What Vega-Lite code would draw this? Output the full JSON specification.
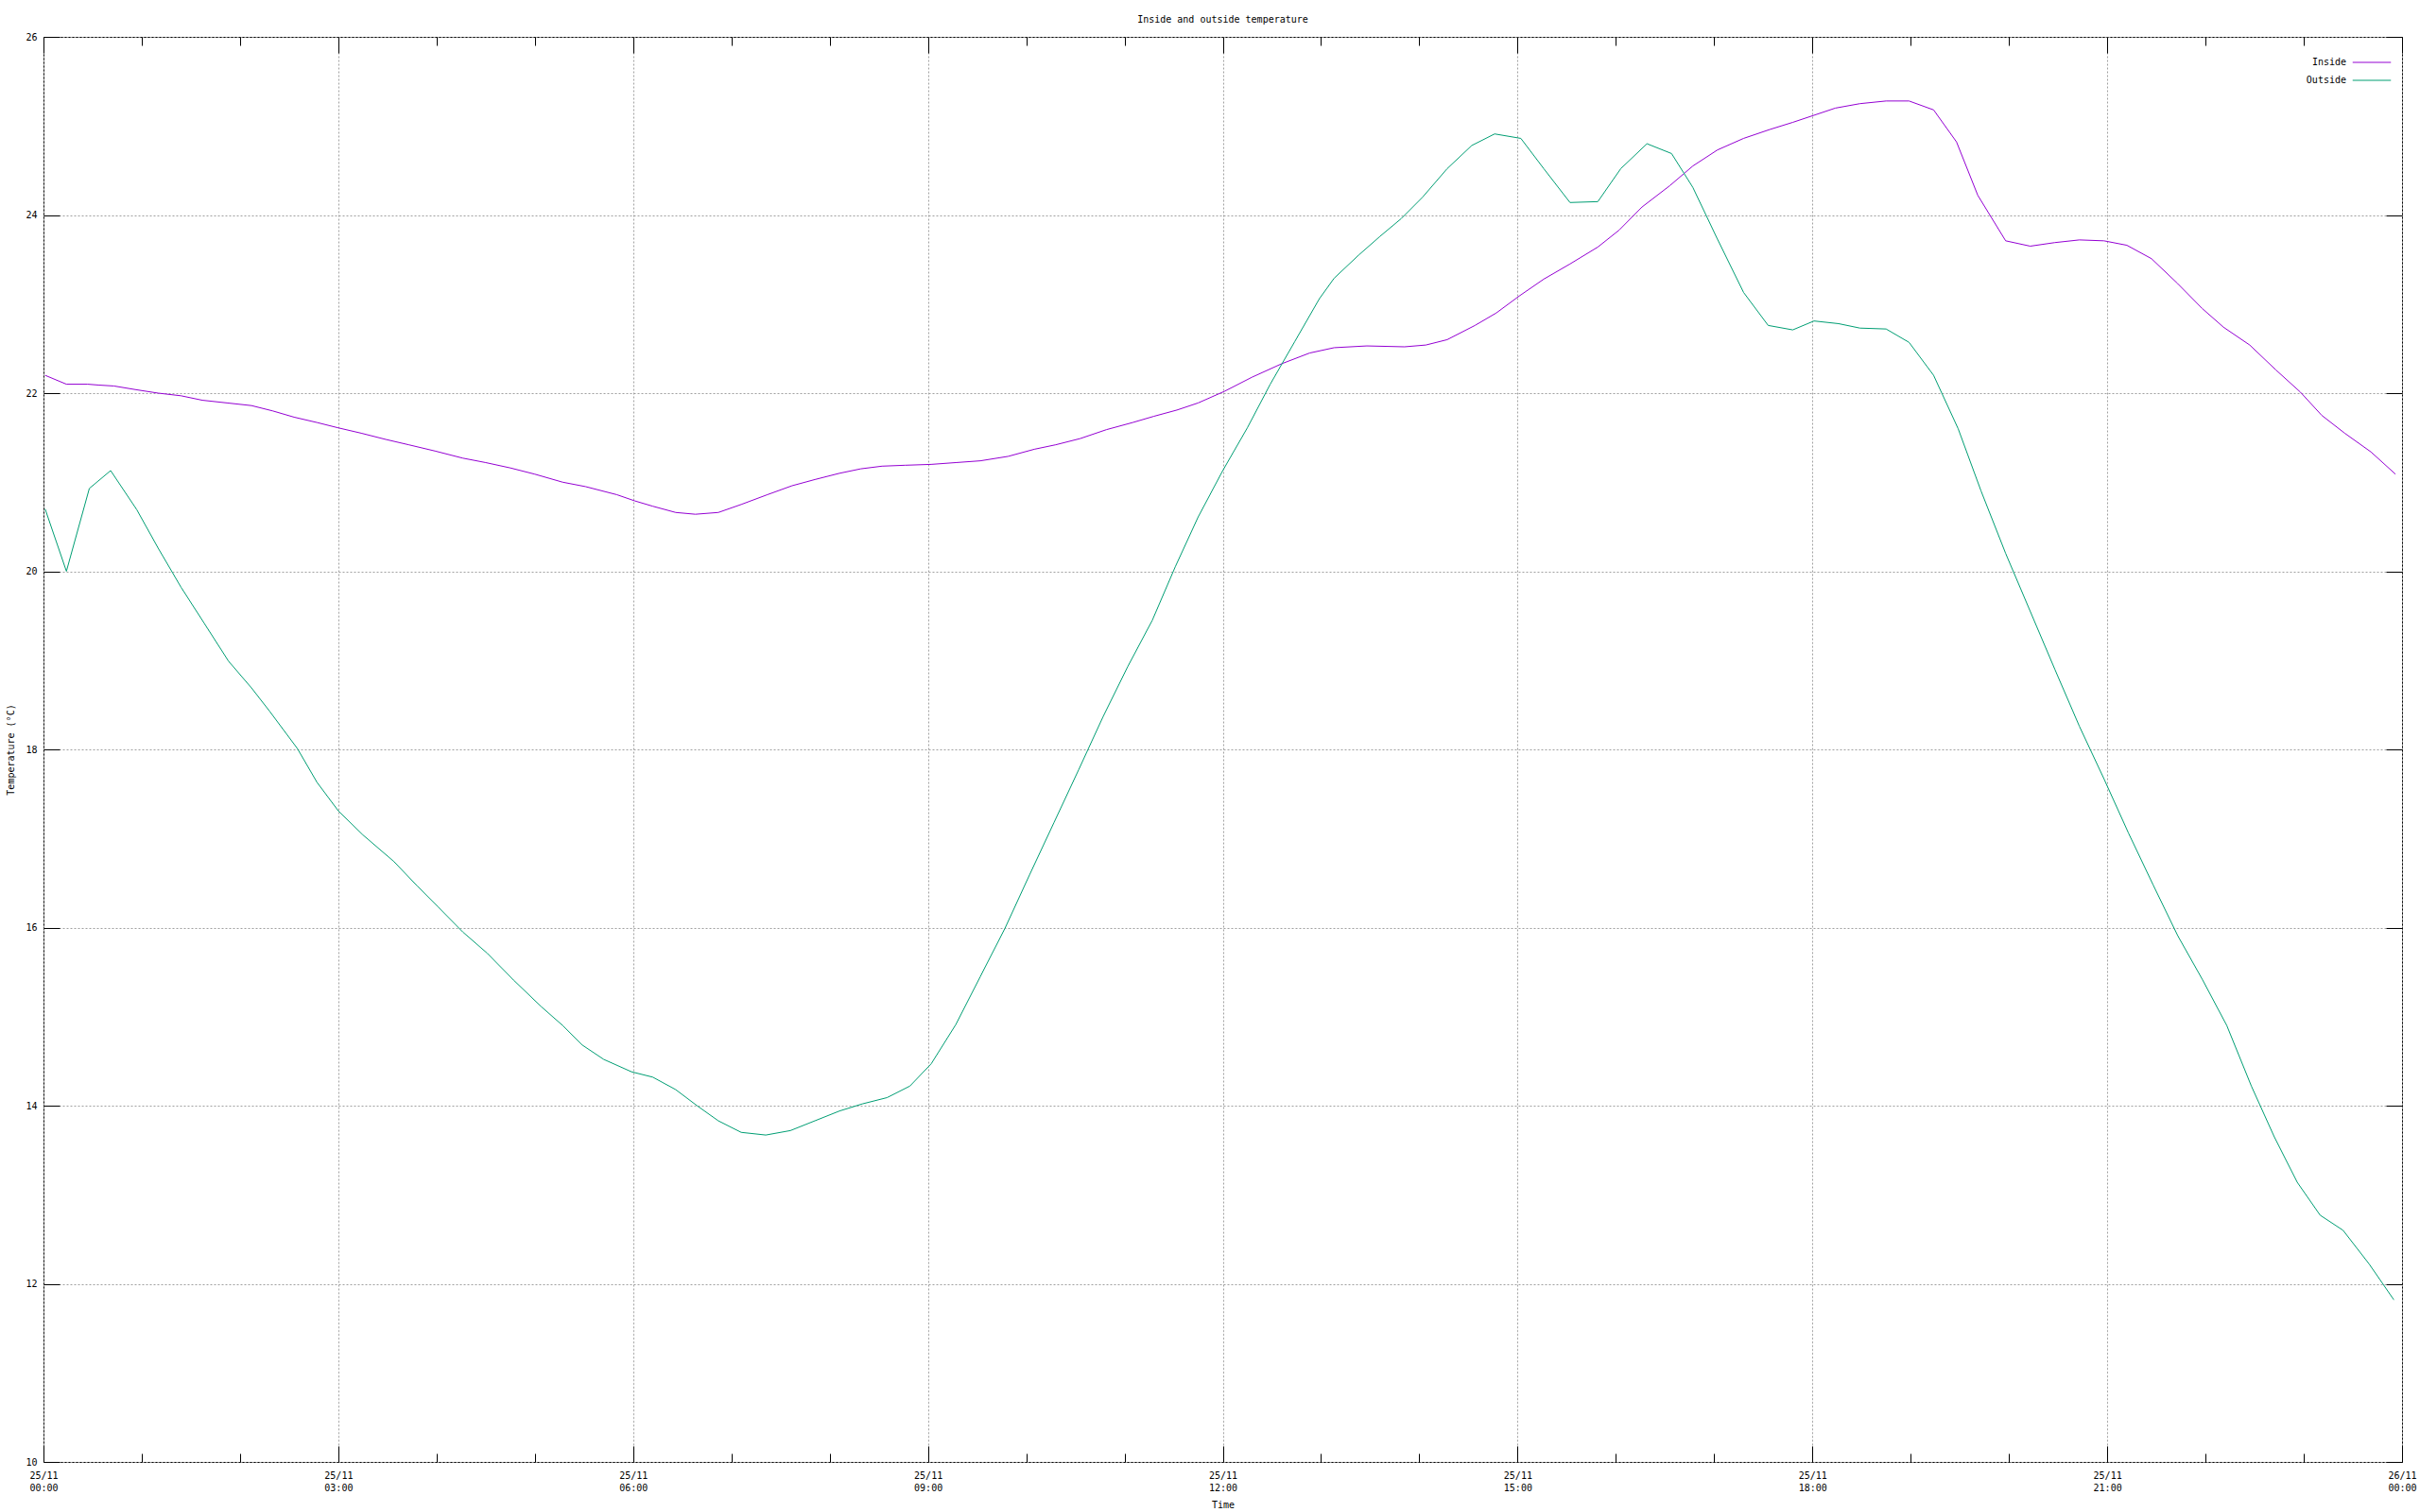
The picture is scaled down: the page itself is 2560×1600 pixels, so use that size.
{
  "$schema": "https://vega.github.io/schema/vega-lite/v6.json",
  "width": 2495,
  "height": 1508,
  "autosize": {"type": "none"},
  "padding": {"left": 46, "top": 39, "right": 19, "bottom": 53},
  "background": "white",
  "title": {"text": "Inside and outside temperature", "font": "DejaVu Sans Mono", "fontSize": 10, "fontWeight": "normal", "color": "black", "anchor": "middle", "offset": 8},
  "config": {
    "view": {"stroke": "black", "strokeWidth": 1},
    "axis": {"domain": false, "labelFont": "DejaVu Sans Mono", "labelFontSize": 10, "labelColor": "black", "titleFont": "DejaVu Sans Mono", "titleFontSize": 10, "titleFontWeight": "normal", "titleColor": "black", "tickColor": "black", "tickWidth": 1, "gridColor": "#a0a0a0", "gridDash": [2, 2], "gridWidth": 1, "labelOverlap": false, "labelFlush": false, "labelBound": false}
  },
  "data": {"values": [
    {"t":"2023-11-25T00:01","s":"Inside","v":22.20},{"t":"2023-11-25T00:14","s":"Inside","v":22.10},{"t":"2023-11-25T00:27","s":"Inside","v":22.10},{"t":"2023-11-25T00:34","s":"Inside","v":22.09},{"t":"2023-11-25T00:43","s":"Inside","v":22.08},{"t":"2023-11-25T00:56","s":"Inside","v":22.04},{"t":"2023-11-25T01:10","s":"Inside","v":22.00},{"t":"2023-11-25T01:24","s":"Inside","v":21.97},{"t":"2023-11-25T01:37","s":"Inside","v":21.92},{"t":"2023-11-25T01:52","s":"Inside","v":21.89},{"t":"2023-11-25T02:07","s":"Inside","v":21.86},{"t":"2023-11-25T02:20","s":"Inside","v":21.80},{"t":"2023-11-25T02:33","s":"Inside","v":21.73},{"t":"2023-11-25T02:47","s":"Inside","v":21.67},{"t":"2023-11-25T03:00","s":"Inside","v":21.61},{"t":"2023-11-25T03:14","s":"Inside","v":21.55},{"t":"2023-11-25T03:29","s":"Inside","v":21.48},{"t":"2023-11-25T03:43","s":"Inside","v":21.42},{"t":"2023-11-25T03:59","s":"Inside","v":21.35},{"t":"2023-11-25T04:16","s":"Inside","v":21.27},{"t":"2023-11-25T04:30","s":"Inside","v":21.22},{"t":"2023-11-25T04:45","s":"Inside","v":21.16},{"t":"2023-11-25T05:00","s":"Inside","v":21.09},{"t":"2023-11-25T05:17","s":"Inside","v":21.00},{"t":"2023-11-25T05:31","s":"Inside","v":20.95},{"t":"2023-11-25T05:50","s":"Inside","v":20.86},{"t":"2023-11-25T06:01","s":"Inside","v":20.79},{"t":"2023-11-25T06:12","s":"Inside","v":20.73},{"t":"2023-11-25T06:26","s":"Inside","v":20.66},{"t":"2023-11-25T06:38","s":"Inside","v":20.64},{"t":"2023-11-25T06:52","s":"Inside","v":20.66},{"t":"2023-11-25T07:06","s":"Inside","v":20.75},{"t":"2023-11-25T07:22","s":"Inside","v":20.86},{"t":"2023-11-25T07:37","s":"Inside","v":20.96},{"t":"2023-11-25T07:51","s":"Inside","v":21.03},{"t":"2023-11-25T08:06","s":"Inside","v":21.10},{"t":"2023-11-25T08:19","s":"Inside","v":21.15},{"t":"2023-11-25T08:32","s":"Inside","v":21.18},{"t":"2023-11-25T08:46","s":"Inside","v":21.19},{"t":"2023-11-25T09:02","s":"Inside","v":21.20},{"t":"2023-11-25T09:17","s":"Inside","v":21.22},{"t":"2023-11-25T09:32","s":"Inside","v":21.24},{"t":"2023-11-25T09:49","s":"Inside","v":21.29},{"t":"2023-11-25T10:05","s":"Inside","v":21.37},{"t":"2023-11-25T10:18","s":"Inside","v":21.42},{"t":"2023-11-25T10:33","s":"Inside","v":21.49},{"t":"2023-11-25T10:49","s":"Inside","v":21.59},{"t":"2023-11-25T11:05","s":"Inside","v":21.67},{"t":"2023-11-25T11:18","s":"Inside","v":21.74},{"t":"2023-11-25T11:32","s":"Inside","v":21.81},{"t":"2023-11-25T11:45","s":"Inside","v":21.89},{"t":"2023-11-25T12:01","s":"Inside","v":22.02},{"t":"2023-11-25T12:18","s":"Inside","v":22.18},{"t":"2023-11-25T12:36","s":"Inside","v":22.33},{"t":"2023-11-25T12:53","s":"Inside","v":22.45},{"t":"2023-11-25T13:08","s":"Inside","v":22.51},{"t":"2023-11-25T13:28","s":"Inside","v":22.53},{"t":"2023-11-25T13:51","s":"Inside","v":22.52},{"t":"2023-11-25T14:04","s":"Inside","v":22.54},{"t":"2023-11-25T14:17","s":"Inside","v":22.60},{"t":"2023-11-25T14:34","s":"Inside","v":22.76},{"t":"2023-11-25T14:47","s":"Inside","v":22.90},{"t":"2023-11-25T15:01","s":"Inside","v":23.09},{"t":"2023-11-25T15:16","s":"Inside","v":23.28},{"t":"2023-11-25T15:32","s":"Inside","v":23.45},{"t":"2023-11-25T15:49","s":"Inside","v":23.64},{"t":"2023-11-25T16:02","s":"Inside","v":23.83},{"t":"2023-11-25T16:16","s":"Inside","v":24.09},{"t":"2023-11-25T16:33","s":"Inside","v":24.33},{"t":"2023-11-25T16:47","s":"Inside","v":24.55},{"t":"2023-11-25T17:02","s":"Inside","v":24.73},{"t":"2023-11-25T17:18","s":"Inside","v":24.86},{"t":"2023-11-25T17:34","s":"Inside","v":24.96},{"t":"2023-11-25T17:48","s":"Inside","v":25.04},{"t":"2023-11-25T18:01","s":"Inside","v":25.12},{"t":"2023-11-25T18:14","s":"Inside","v":25.20},{"t":"2023-11-25T18:29","s":"Inside","v":25.25},{"t":"2023-11-25T18:45","s":"Inside","v":25.28},{"t":"2023-11-25T18:59","s":"Inside","v":25.28},{"t":"2023-11-25T19:14","s":"Inside","v":25.18},{"t":"2023-11-25T19:28","s":"Inside","v":24.82},{"t":"2023-11-25T19:41","s":"Inside","v":24.22},{"t":"2023-11-25T19:58","s":"Inside","v":23.71},{"t":"2023-11-25T20:13","s":"Inside","v":23.65},{"t":"2023-11-25T20:28","s":"Inside","v":23.69},{"t":"2023-11-25T20:43","s":"Inside","v":23.72},{"t":"2023-11-25T20:58","s":"Inside","v":23.71},{"t":"2023-11-25T21:12","s":"Inside","v":23.66},{"t":"2023-11-25T21:27","s":"Inside","v":23.51},{"t":"2023-11-25T21:43","s":"Inside","v":23.23},{"t":"2023-11-25T21:58","s":"Inside","v":22.95},{"t":"2023-11-25T22:11","s":"Inside","v":22.74},{"t":"2023-11-25T22:27","s":"Inside","v":22.54},{"t":"2023-11-25T22:43","s":"Inside","v":22.26},{"t":"2023-11-25T22:58","s":"Inside","v":22.01},{"t":"2023-11-25T23:11","s":"Inside","v":21.75},{"t":"2023-11-25T23:25","s":"Inside","v":21.55},{"t":"2023-11-25T23:41","s":"Inside","v":21.34},{"t":"2023-11-25T23:56","s":"Inside","v":21.09},
    {"t":"2023-11-25T00:01","s":"Outside","v":20.70},{"t":"2023-11-25T00:14","s":"Outside","v":20.00},{"t":"2023-11-25T00:28","s":"Outside","v":20.93},{"t":"2023-11-25T00:41","s":"Outside","v":21.13},{"t":"2023-11-25T00:57","s":"Outside","v":20.69},{"t":"2023-11-25T01:10","s":"Outside","v":20.26},{"t":"2023-11-25T01:24","s":"Outside","v":19.82},{"t":"2023-11-25T01:38","s":"Outside","v":19.42},{"t":"2023-11-25T01:53","s":"Outside","v":18.99},{"t":"2023-11-25T02:07","s":"Outside","v":18.69},{"t":"2023-11-25T02:18","s":"Outside","v":18.43},{"t":"2023-11-25T02:35","s":"Outside","v":18.01},{"t":"2023-11-25T02:47","s":"Outside","v":17.63},{"t":"2023-11-25T03:00","s":"Outside","v":17.31},{"t":"2023-11-25T03:15","s":"Outside","v":17.04},{"t":"2023-11-25T03:34","s":"Outside","v":16.74},{"t":"2023-11-25T03:48","s":"Outside","v":16.47},{"t":"2023-11-25T04:01","s":"Outside","v":16.23},{"t":"2023-11-25T04:16","s":"Outside","v":15.95},{"t":"2023-11-25T04:31","s":"Outside","v":15.71},{"t":"2023-11-25T04:47","s":"Outside","v":15.41},{"t":"2023-11-25T05:04","s":"Outside","v":15.11},{"t":"2023-11-25T05:17","s":"Outside","v":14.90},{"t":"2023-11-25T05:29","s":"Outside","v":14.68},{"t":"2023-11-25T05:42","s":"Outside","v":14.52},{"t":"2023-11-25T05:59","s":"Outside","v":14.38},{"t":"2023-11-25T06:12","s":"Outside","v":14.32},{"t":"2023-11-25T06:26","s":"Outside","v":14.18},{"t":"2023-11-25T06:39","s":"Outside","v":14.00},{"t":"2023-11-25T06:52","s":"Outside","v":13.83},{"t":"2023-11-25T07:06","s":"Outside","v":13.70},{"t":"2023-11-25T07:21","s":"Outside","v":13.67},{"t":"2023-11-25T07:36","s":"Outside","v":13.72},{"t":"2023-11-25T07:51","s":"Outside","v":13.83},{"t":"2023-11-25T08:06","s":"Outside","v":13.94},{"t":"2023-11-25T08:20","s":"Outside","v":14.02},{"t":"2023-11-25T08:35","s":"Outside","v":14.09},{"t":"2023-11-25T08:49","s":"Outside","v":14.22},{"t":"2023-11-25T09:02","s":"Outside","v":14.47},{"t":"2023-11-25T09:17","s":"Outside","v":14.91},{"t":"2023-11-25T09:32","s":"Outside","v":15.45},{"t":"2023-11-25T09:47","s":"Outside","v":15.99},{"t":"2023-11-25T10:02","s":"Outside","v":16.59},{"t":"2023-11-25T10:17","s":"Outside","v":17.18},{"t":"2023-11-25T10:32","s":"Outside","v":17.77},{"t":"2023-11-25T10:47","s":"Outside","v":18.37},{"t":"2023-11-25T11:02","s":"Outside","v":18.93},{"t":"2023-11-25T11:17","s":"Outside","v":19.45},{"t":"2023-11-25T11:31","s":"Outside","v":20.05},{"t":"2023-11-25T11:45","s":"Outside","v":20.61},{"t":"2023-11-25T12:00","s":"Outside","v":21.13},{"t":"2023-11-25T12:15","s":"Outside","v":21.61},{"t":"2023-11-25T12:29","s":"Outside","v":22.10},{"t":"2023-11-25T12:44","s":"Outside","v":22.58},{"t":"2023-11-25T12:59","s":"Outside","v":23.06},{"t":"2023-11-25T13:08","s":"Outside","v":23.29},{"t":"2023-11-25T13:23","s":"Outside","v":23.55},{"t":"2023-11-25T13:36","s":"Outside","v":23.76},{"t":"2023-11-25T13:49","s":"Outside","v":23.96},{"t":"2023-11-25T14:02","s":"Outside","v":24.20},{"t":"2023-11-25T14:17","s":"Outside","v":24.52},{"t":"2023-11-25T14:32","s":"Outside","v":24.78},{"t":"2023-11-25T14:46","s":"Outside","v":24.91},{"t":"2023-11-25T15:02","s":"Outside","v":24.86},{"t":"2023-11-25T15:16","s":"Outside","v":24.52},{"t":"2023-11-25T15:32","s":"Outside","v":24.14},{"t":"2023-11-25T15:49","s":"Outside","v":24.15},{"t":"2023-11-25T16:03","s":"Outside","v":24.52},{"t":"2023-11-25T16:19","s":"Outside","v":24.80},{"t":"2023-11-25T16:34","s":"Outside","v":24.69},{"t":"2023-11-25T16:47","s":"Outside","v":24.31},{"t":"2023-11-25T17:02","s":"Outside","v":23.73},{"t":"2023-11-25T17:18","s":"Outside","v":23.13},{"t":"2023-11-25T17:33","s":"Outside","v":22.76},{"t":"2023-11-25T17:48","s":"Outside","v":22.71},{"t":"2023-11-25T18:01","s":"Outside","v":22.81},{"t":"2023-11-25T18:16","s":"Outside","v":22.78},{"t":"2023-11-25T18:29","s":"Outside","v":22.73},{"t":"2023-11-25T18:45","s":"Outside","v":22.72},{"t":"2023-11-25T18:59","s":"Outside","v":22.57},{"t":"2023-11-25T19:14","s":"Outside","v":22.20},{"t":"2023-11-25T19:29","s":"Outside","v":21.60},{"t":"2023-11-25T19:43","s":"Outside","v":20.90},{"t":"2023-11-25T19:58","s":"Outside","v":20.20},{"t":"2023-11-25T20:13","s":"Outside","v":19.55},{"t":"2023-11-25T20:28","s":"Outside","v":18.90},{"t":"2023-11-25T20:43","s":"Outside","v":18.26},{"t":"2023-11-25T20:58","s":"Outside","v":17.67},{"t":"2023-11-25T21:13","s":"Outside","v":17.06},{"t":"2023-11-25T21:28","s":"Outside","v":16.48},{"t":"2023-11-25T21:43","s":"Outside","v":15.91},{"t":"2023-11-25T21:58","s":"Outside","v":15.42},{"t":"2023-11-25T22:13","s":"Outside","v":14.90},{"t":"2023-11-25T22:28","s":"Outside","v":14.22},{"t":"2023-11-25T22:42","s":"Outside","v":13.65},{"t":"2023-11-25T22:56","s":"Outside","v":13.14},{"t":"2023-11-25T23:10","s":"Outside","v":12.77},{"t":"2023-11-25T23:24","s":"Outside","v":12.60},{"t":"2023-11-25T23:40","s":"Outside","v":12.22},{"t":"2023-11-25T23:55","s":"Outside","v":11.82}
  ]},
  "layer": [
    {
      "mark": {"type": "line", "strokeWidth": 1, "clip": true},
      "encoding": {
        "x": {"field": "t", "type": "temporal", "title": "Time",
          "scale": {"domain": [{"year": 2023, "month": 11, "date": 25, "hours": 0}, {"year": 2023, "month": 11, "date": 26, "hours": 0}], "nice": false},
          "axis": {"orient": "bottom",
            "values": [{"year": 2023, "month": 11, "date": 25, "hours": 0}, {"year": 2023, "month": 11, "date": 25, "hours": 3}, {"year": 2023, "month": 11, "date": 25, "hours": 6}, {"year": 2023, "month": 11, "date": 25, "hours": 9}, {"year": 2023, "month": 11, "date": 25, "hours": 12}, {"year": 2023, "month": 11, "date": 25, "hours": 15}, {"year": 2023, "month": 11, "date": 25, "hours": 18}, {"year": 2023, "month": 11, "date": 25, "hours": 21}, {"year": 2023, "month": 11, "date": 26, "hours": 0}],
            "labelExpr": "[timeFormat(datum.value, '%d/%m'), timeFormat(datum.value, '%H:%M')]",
            "labelLineHeight": 13, "labelPadding": 26, "labelAlign": "center", "labelBaseline": "top",
            "tickSize": -17, "titlePadding": 8}},
        "y": {"field": "v", "type": "quantitative", "title": "Temperature (°C)",
          "scale": {"domain": [10, 26], "nice": false, "zero": false},
          "axis": {"orient": "left", "values": [10, 12, 14, 16, 18, 20, 22, 24, 26], "tickSize": -17, "labelPadding": 24, "titlePadding": 10}},
        "color": {"field": "s", "type": "nominal",
          "scale": {"domain": ["Inside", "Outside"], "range": ["#9400d3", "#009e73"]},
          "legend": {"orient": "none", "legendX": 2449, "legendY": 13, "title": null, "symbolType": "M-1.5,0H1.5", "symbolSize": 729, "symbolStrokeWidth": 1, "labelAlign": "right", "labelOffset": -41, "labelFont": "DejaVu Sans Mono", "labelFontSize": 10, "labelColor": "black", "padding": 0, "rowPadding": 0}}
      }
    },
    {
      "mark": {"type": "line", "opacity": 0},
      "encoding": {
        "x": {"field": "t", "type": "temporal",
          "axis": {"orient": "top", "title": null, "labels": false, "grid": false, "tickSize": -17,
            "values": [{"year": 2023, "month": 11, "date": 25, "hours": 0}, {"year": 2023, "month": 11, "date": 25, "hours": 3}, {"year": 2023, "month": 11, "date": 25, "hours": 6}, {"year": 2023, "month": 11, "date": 25, "hours": 9}, {"year": 2023, "month": 11, "date": 25, "hours": 12}, {"year": 2023, "month": 11, "date": 25, "hours": 15}, {"year": 2023, "month": 11, "date": 25, "hours": 18}, {"year": 2023, "month": 11, "date": 25, "hours": 21}, {"year": 2023, "month": 11, "date": 26, "hours": 0}]}},
        "y": {"field": "v", "type": "quantitative",
          "axis": {"orient": "right", "title": null, "labels": false, "grid": false, "values": [10, 12, 14, 16, 18, 20, 22, 24, 26], "tickSize": -17}},
        "detail": {"field": "s"}
      }
    },
    {
      "mark": {"type": "line", "opacity": 0},
      "encoding": {
        "x": {"field": "t", "type": "temporal",
          "axis": {"orient": "top", "title": null, "labels": false, "grid": false, "tickSize": -9,
            "values": [{"year": 2023, "month": 11, "date": 25, "hours": 1}, {"year": 2023, "month": 11, "date": 25, "hours": 2}, {"year": 2023, "month": 11, "date": 25, "hours": 4}, {"year": 2023, "month": 11, "date": 25, "hours": 5}, {"year": 2023, "month": 11, "date": 25, "hours": 7}, {"year": 2023, "month": 11, "date": 25, "hours": 8}, {"year": 2023, "month": 11, "date": 25, "hours": 10}, {"year": 2023, "month": 11, "date": 25, "hours": 11}, {"year": 2023, "month": 11, "date": 25, "hours": 13}, {"year": 2023, "month": 11, "date": 25, "hours": 14}, {"year": 2023, "month": 11, "date": 25, "hours": 16}, {"year": 2023, "month": 11, "date": 25, "hours": 17}, {"year": 2023, "month": 11, "date": 25, "hours": 19}, {"year": 2023, "month": 11, "date": 25, "hours": 20}, {"year": 2023, "month": 11, "date": 25, "hours": 22}, {"year": 2023, "month": 11, "date": 25, "hours": 23}]}},
        "y": {"field": "v", "type": "quantitative", "axis": null},
        "detail": {"field": "s"}
      }
    },
    {
      "mark": {"type": "line", "opacity": 0},
      "encoding": {
        "x": {"field": "t", "type": "temporal",
          "axis": {"orient": "bottom", "title": null, "labels": false, "grid": false, "tickSize": -9,
            "values": [{"year": 2023, "month": 11, "date": 25, "hours": 1}, {"year": 2023, "month": 11, "date": 25, "hours": 2}, {"year": 2023, "month": 11, "date": 25, "hours": 4}, {"year": 2023, "month": 11, "date": 25, "hours": 5}, {"year": 2023, "month": 11, "date": 25, "hours": 7}, {"year": 2023, "month": 11, "date": 25, "hours": 8}, {"year": 2023, "month": 11, "date": 25, "hours": 10}, {"year": 2023, "month": 11, "date": 25, "hours": 11}, {"year": 2023, "month": 11, "date": 25, "hours": 13}, {"year": 2023, "month": 11, "date": 25, "hours": 14}, {"year": 2023, "month": 11, "date": 25, "hours": 16}, {"year": 2023, "month": 11, "date": 25, "hours": 17}, {"year": 2023, "month": 11, "date": 25, "hours": 19}, {"year": 2023, "month": 11, "date": 25, "hours": 20}, {"year": 2023, "month": 11, "date": 25, "hours": 22}, {"year": 2023, "month": 11, "date": 25, "hours": 23}]}},
        "y": {"field": "v", "type": "quantitative", "axis": null},
        "detail": {"field": "s"}
      }
    }
  ],
  "resolve": {"axis": {"x": "independent", "y": "independent"}}
}
